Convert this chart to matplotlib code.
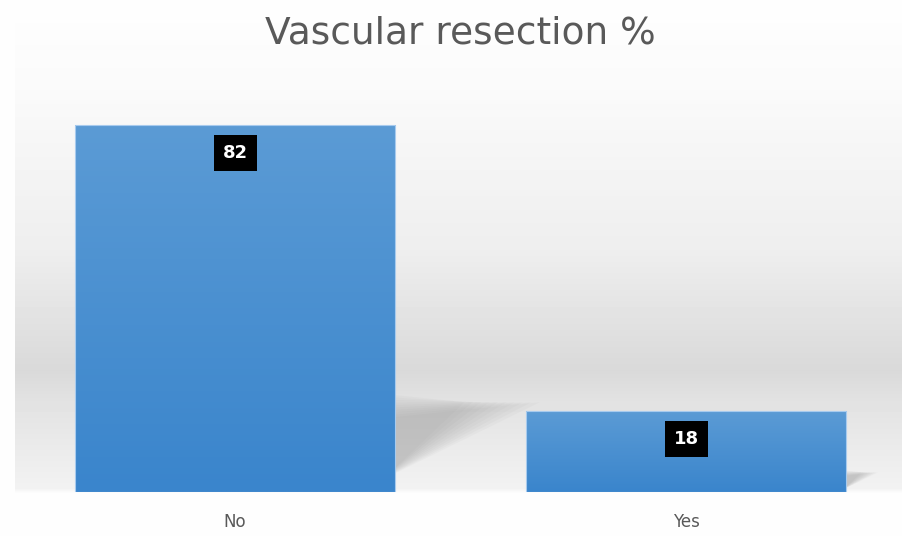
import numpy as np
import matplotlib.pyplot as plt
from matplotlib.colors import to_rgb
from matplotlib.patches import Polygon

# Datos del gráfico
categories = ["No", "Yes"]
values = [82, 18]
title = "Vascular resection %"

W, H = 902, 536
fig = plt.figure(figsize=(W / 100, H / 100), dpi=100)

# Fondo con degradado vertical (gris en la franja inferior)
rows = np.arange(H)
gray = np.interp(rows, [0, 90, 250, 370, 400, 488, 493, H],
                 [254, 250, 238, 217, 226, 242, 254, 254]) / 255
bg = np.repeat(gray[:, None], W, axis=1)
bg[:, :15] = 254 / 255
bg_ax = fig.add_axes([0, 0, 1, 1], zorder=0)
bg_ax.imshow(bg, cmap="gray", vmin=0, vmax=1, aspect="auto", interpolation="bilinear")
bg_ax.axis("off")

# Ejes principales
ax = fig.add_axes([10 / W, 44 / H, 882 / W, (492 - 89.2) / H], zorder=1)
ax.patch.set_alpha(0)
x = np.arange(len(categories))
bw = 0.71
bars = ax.bar(x, values, width=bw, facecolor="none", edgecolor="#a8cbee", linewidth=0.8, zorder=3)

top_c = np.array(to_rgb("#5b9bd5"))
bot_c = np.array(to_rgb("#3a85cc"))
t = np.linspace(0, 1, 100)[:, None]
grad = top_c * (1 - t) + bot_c * t

for b, v in zip(bars, values):
    x0, x1 = b.get_x(), b.get_x() + b.get_width()
    ax.imshow(grad[:, None, :], extent=[x0, x1, 0, v], aspect="auto", zorder=2,
              interpolation="bilinear")
    # sombra difusa en perspectiva a la derecha de la barra
    sh_h = 0.24 * v
    sh_l = 0.0034 * v
    n = 10
    for k in range(n):
        f = 0.55 + 0.6 * k / (n - 1)
        top = sh_h * (0.85 + 0.25 * (1 - k / (n - 1)))
        poly = Polygon([[x1, top * 0.25], [x1, top], [x1 + sh_l * f, sh_h * 1.02]],
                       closed=True, facecolor="#808080", edgecolor="none",
                       alpha=0.045, zorder=1.5)
        ax.add_patch(poly)
    # etiqueta de valor
    ax.annotate(str(v), xy=(b.get_x() + b.get_width() / 2, v), xytext=(0, -20),
                textcoords="offset points", ha="center", va="center",
                fontsize=13, fontweight="bold", color="white", zorder=5,
                bbox=dict(boxstyle="square,pad=0.5", facecolor="black", edgecolor="none"))

ax.set_xlim(-0.499, 1.456)
ax.set_ylim(0, 90)
ax.set_xticks(x, categories)
ax.tick_params(axis="x", length=0, pad=15, labelsize=12, labelcolor="#595959")
ax.set_yticks([])
for s in ax.spines.values():
    s.set_visible(False)

fig.text(460 / W, 1 - 33 / H, title, ha="center", va="center", fontsize=27, color="#595959")

fig.savefig("out.png", dpi=100)
